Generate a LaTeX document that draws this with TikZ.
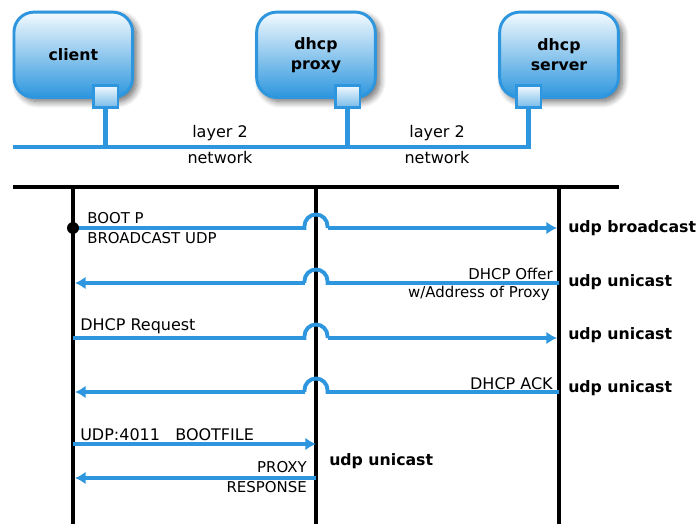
\documentclass[tikz,border=0pt]{standalone}
\usepackage{fontspec}
\setmainfont{DejaVu Sans}
\usetikzlibrary{calc}
\usetikzlibrary{arrows.meta,shadows.blur}
\definecolor{netblue}{RGB}{45,150,222}
\definecolor{toplight}{RGB}{243,250,254}
\tikzset{
  hostbox/.style={draw=netblue, line width=2.2pt, rounded corners=15pt, minimum width=89pt, minimum height=64pt,
    top color=toplight, bottom color=netblue, align=center, font=\bfseries\fontsize{11.8}{15}\selectfont,
    blur shadow={shadow xshift=3pt, shadow yshift=-3pt, shadow blur steps=10, shadow blur radius=5pt, shadow opacity=60}},
  portbox/.style={draw=netblue, line width=2pt, minimum width=18.2pt, minimum height=16.5pt, inner sep=0pt,
    top color=toplight, bottom color=netblue!65},
  netline/.style={netblue, line width=3.6pt},
  lifeline/.style={black, line width=2.4pt},
  msgline/.style={netblue, line width=2.9pt},
  msgarrow/.style={msgline, -{Latex[length=8pt,width=9.5pt]}},
  msgtext/.style={inner sep=0pt, font=\fontsize{11.2}{13}\selectfont},
  bigtext/.style={inner sep=0pt, font=\fontsize{12}{14}\selectfont},
  casttext/.style={inner sep=0pt, anchor=west, font=\bfseries\fontsize{11.8}{14}\selectfont}
}
\begin{document}
\begin{tikzpicture}[x=0.75pt, y=-0.75pt]
\pgfmathsetmacro{\hopradius}{11.5}
\useasboundingbox (0,0) rectangle (696,524);

% hosts
\node [hostbox] (client) at (73.3,54.8) {client};
\node [hostbox] (proxy) at (316,54.8) {dhcp\\proxy};
\node [hostbox] (server) at (559,54.8) {dhcp\\server};

% layer 2 network
\coordinate (net_left) at (13,147);
\node [portbox] (client_port) at (105.8,96.3) {};
\node [portbox] (proxy_port) at (347.7,96.3) {};
\node [portbox] (server_port) at (528.8,96.3) {};
\draw [netline] (client_port.south) -- (client_port.south |- net_left);
\draw [netline] (proxy_port.south) -- (proxy_port.south |- net_left);
\draw [netline] (net_left) -- (server_port.south |- net_left) -- (server_port.south);
\node [bigtext] (layer_a) at (220,133.5) {layer 2};
\node [bigtext] (network_a) at (220,157.5) {network};
\node [bigtext] (layer_b) at (437,133.5) {layer 2};
\node [bigtext] (network_b) at (437,157.5) {network};

% lifelines
\coordinate (rule_left) at (13,187);
\coordinate (rule_right) at (619,187);
\coordinate (client_top) at (73,187);
\coordinate (proxy_top) at (316,187);
\coordinate (server_top) at (559,187);
\draw [lifeline] (rule_left) -- (rule_right);
\foreach \name in {client,proxy,server}
  \draw [lifeline] (\name_top) -- (\name_top |- 0,524);

% messages that hop over the proxy
\foreach \y in {228,338}{
  \draw [msgline] (client_top |- 0,\y) -- ($(proxy_top |- 0,\y) + (-\hopradius,0)$) -- ++(0,-2) arc (180:360:\hopradius) -- ++(0,2);
  \draw [msgarrow] ($(proxy_top |- 0,\y) + (\hopradius,0)$) -- ($(server_top |- 0,\y) + (-2,0)$);
}
\foreach \y in {283,392}{
  \draw [msgline] (server_top |- 0,\y) -- ($(proxy_top |- 0,\y) + (\hopradius,0)$) -- ++(0,-2) arc (360:180:\hopradius) -- ++(0,2);
  \draw [msgarrow] ($(proxy_top |- 0,\y) + (-\hopradius,0)$) -- ($(client_top |- 0,\y) + (2,0)$);
}
\fill (client_top |- 0,228) circle [radius=6];

% messages that end at the proxy
\draw [msgarrow] (client_top |- 0,444) -- (proxy_top |- 0,444);
\draw [msgarrow] (proxy_top |- 0,478) -- ($(client_top |- 0,478) + (2,0)$);

% message labels
\node [msgtext, anchor=west] (boot) at (87,218.5) {BOOT P};
\node [msgtext, anchor=west] (bcast) at (87,238.5) {BROADCAST UDP};
\node [msgtext, anchor=east] (offer) at (553,273.5) {DHCP Offer};
\node [msgtext, anchor=east] (addr) at (550,293.5) {w/Address of Proxy};
\node [bigtext, anchor=west] (request) at (80,326.5) {DHCP Request};
\node [bigtext, anchor=east] (ack) at (553,383.5) {DHCP ACK};
\node [bigtext, anchor=west] (bootfile) at (80,434.5) {UDP:4011\ \ \ BOOTFILE};
\node [msgtext, anchor=east] (resp_a) at (307,467.5) {PROXY};
\node [msgtext, anchor=east] (resp_b) at (307,487.5) {RESPONSE};

% transport labels
\node [casttext] (cast_a) at (568,228.5) {udp broadcast};
\node [casttext] (cast_b) at (568,282.5) {udp unicast};
\node [casttext] (cast_c) at (568,335.5) {udp unicast};
\node [casttext] (cast_d) at (568,388.5) {udp unicast};
\node [casttext] (cast_e) at (329,461.5) {udp unicast};
\end{tikzpicture}
\end{document}
